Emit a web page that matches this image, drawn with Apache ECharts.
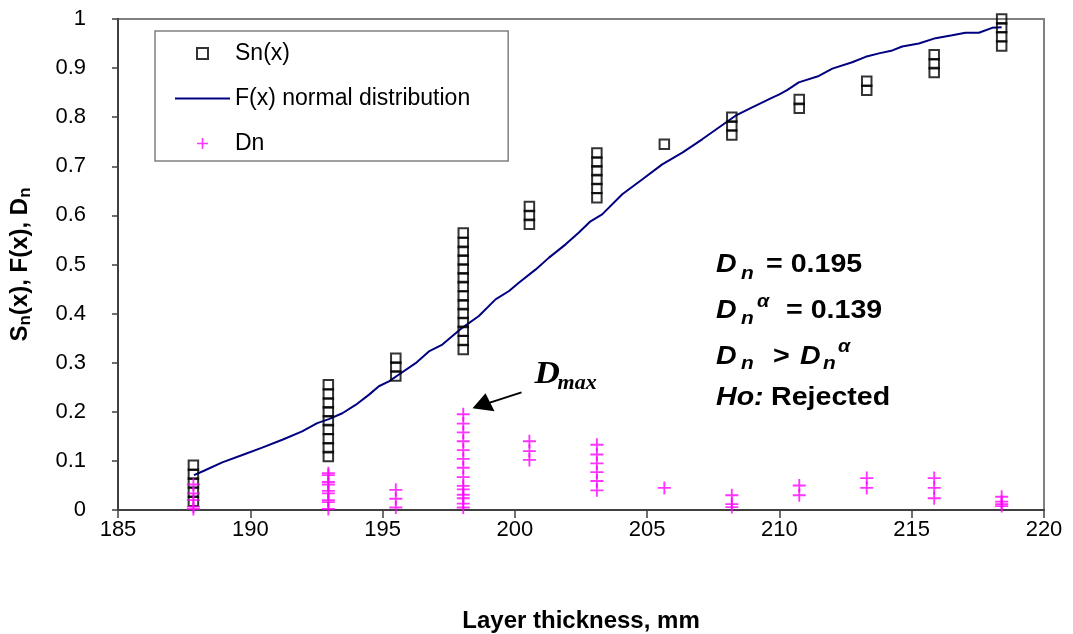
<!DOCTYPE html>
<html><head><meta charset="utf-8">
<script src="https://cdn.jsdelivr.net/npm/echarts@6/dist/echarts.min.js"></script>
<style>html,body{margin:0;padding:0;background:#fff}#c{width:1073px;height:634px}</style>
</head><body><div id="c"></div>
<script>
const FONT = '"Liberation Sans", Arial, Helvetica, sans-serif';
const SERIF = '"Liberation Serif", "Times New Roman", serif';

// ---- data ----
const xAxisMin = 185, xAxisMax = 220, xAxisStep = 5;
const yAxisMin = 0, yAxisMax = 1, yAxisStep = 0.1;

const snThickness = [
  187.85,187.85,187.85,187.85,187.85,
  192.95,192.95,192.95,192.95,192.95,192.95,192.95,192.95,192.95,
  195.5,195.5,195.5,
  198.05,198.05,198.05,198.05,198.05,198.05,198.05,198.05,198.05,198.05,198.05,198.05,198.05,198.05,
  200.55,200.55,200.55,
  203.1,203.1,203.1,203.1,203.1,203.1,
  205.65,
  208.2,208.2,208.2,
  210.75,210.75,
  213.3,213.3,
  215.85,215.85,215.85,
  218.4,218.4,218.4,218.4
];
const snValues = [
  0.018,0.036,0.055,0.073,0.091,
  0.109,0.127,0.145,0.164,0.182,0.200,0.218,0.236,0.255,
  0.273,0.291,0.309,
  0.327,0.345,0.364,0.382,0.400,0.418,0.436,0.455,0.473,0.491,0.509,0.527,0.545,0.564,
  0.582,0.600,0.618,
  0.636,0.655,0.673,0.691,0.709,0.727,
  0.745,
  0.764,0.782,0.800,
  0.818,0.836,
  0.855,0.873,
  0.891,0.909,0.927,
  0.945,0.964,0.982,1.000
];

const fThickness = [
  187.87,188.25,188.94,189.70,190.45,191.21,191.96,192.53,192.97,193.48,193.98,194.49,194.86,195.24,
  195.62,196.25,196.75,197.26,198.01,198.64,199.27,199.78,200.15,200.79,201.29,201.92,202.42,202.86,
  203.30,204.06,204.81,205.57,206.33,207.08,207.71,208.34,208.97,209.73,209.98,210.29,210.73,211.49,
  212.00,212.75,213.26,213.76,214.27,214.64,215.27,215.90,216.53,217.03,217.54,218.04,218.40
];
const fValues = [
  0.071,0.080,0.097,0.112,0.127,0.143,0.160,0.177,0.185,0.197,0.214,0.235,0.252,0.262,
  0.276,0.299,0.323,0.337,0.371,0.395,0.429,0.446,0.463,0.490,0.514,0.541,0.565,0.588,
  0.602,0.643,0.673,0.704,0.728,0.755,0.779,0.803,0.820,0.840,0.846,0.855,0.871,0.884,
  0.899,0.912,0.923,0.930,0.936,0.944,0.950,0.961,0.967,0.972,0.972,0.982,0.983
];

const dnThickness = snThickness;
const dnValues = [
  0.052,0.034,0.020,0.007,0.002,
  0.075,0.057,0.039,0.020,0.002,0.016,0.034,0.052,0.071,
  0.005,0.023,0.041,
  0.042,0.024,0.005,0.013,0.031,0.049,0.067,0.086,0.104,0.122,0.140,0.158,0.176,0.195,
  0.102,0.120,0.140,
  0.040,0.059,0.077,0.095,0.113,0.133,
  0.045,
  0.030,0.012,0.006,
  0.050,0.030,
  0.065,0.045,
  0.065,0.045,0.024,
  0.027,0.017,0.012,0.008
];
const dMaxThickness = 198.05, dMaxValue = 0.195;

const seriesNames = ['Sn(x)', 'F(x) normal distribution', 'Dn'];

// ---- chart ----
const pairs = (xs, ys) => xs.map((x, i) => [x, ys[i]]);
const crossPath = 'path://M0,6L14,6L14,8L0,8Z M6,0L8,0L8,14L6,14Z';
const squarePath = 'path://M0,0L10,0L10,10L0,10Z';
const barPath = 'path://M0,0L55,0L55,2L0,2Z';
const chart = echarts.init(document.getElementById('c'), null, {renderer: 'canvas'});

chart.setOption({
  animation: false,
  backgroundColor: '#fff',
  textStyle: {fontFamily: FONT},
  grid: {left: 118, right: 29, top: 19, bottom: 124, show: true, containLabel: false,
         outerBoundsMode: 'none',
         borderColor: '#808080', borderWidth: 2, backgroundColor: 'transparent'},
  legend: {
    orient: 'vertical', left: 155, top: 31,
    padding: [11, 38, 6, 20], itemGap: 22,
    itemWidth: 55, itemHeight: 11, symbolKeepAspect: true,
    borderColor: '#808080', borderWidth: 1.5, backgroundColor: '#fff',
    textStyle: {fontFamily: FONT, fontSize: 23, color: '#000'},
    data: [
      {name: seriesNames[0], icon: squarePath},
      {name: seriesNames[1], icon: barPath},
      {name: seriesNames[2], icon: crossPath}
    ]
  },
  xAxis: {
    type: 'value', min: xAxisMin, max: xAxisMax, interval: xAxisStep,
    name: 'Layer thickness, mm', nameLocation: 'middle', nameGap: 99,
    nameTextStyle: {fontFamily: FONT, fontSize: 24, fontWeight: 'bold', color: '#000'},
    axisLine: {show: true, onZero: false, lineStyle: {color: '#404040', width: 2}},
    axisTick: {show: true, length: 8, lineStyle: {color: '#404040', width: 1.5}},
    axisLabel: {fontFamily: FONT, fontSize: 22, color: '#000', margin: 9},
    splitLine: {show: false}
  },
  yAxis: {
    type: 'value', min: yAxisMin, max: yAxisMax, interval: yAxisStep,
    name: '{b|S}{s|n}{b|(x), F(x), D}{s|n}', nameLocation: 'middle', nameGap: 84, nameRotate: 90,
    nameTextStyle: {
      fontFamily: FONT, fontSize: 24, fontWeight: 'bold', color: '#000',
      rich: {
        b: {fontFamily: FONT, fontSize: 24, fontWeight: 'bold', color: '#000', lineHeight: 28, verticalAlign: 'middle'},
        s: {fontFamily: FONT, fontSize: 17, fontWeight: 'bold', color: '#000', lineHeight: 20, verticalAlign: 'bottom'}
      }
    },
    axisLine: {show: true, onZero: false, lineStyle: {color: '#404040', width: 2}},
    axisTick: {show: true, length: 6, lineStyle: {color: '#404040', width: 1.5}},
    axisLabel: {fontFamily: FONT, fontSize: 22, color: '#000', margin: 32},
    splitLine: {show: false}
  },
  series: [
    {
      name: seriesNames[0], type: 'scatter', data: pairs(snThickness, snValues),
      symbol: 'rect', symbolSize: 9.5, z: 3,
      itemStyle: {color: 'rgba(0,0,0,0)', borderColor: '#000', borderWidth: 2}
    },
    {
      name: seriesNames[1], type: 'line', data: pairs(fThickness, fValues),
      symbol: 'none', smooth: false, z: 2,
      lineStyle: {color: '#000080', width: 2}, itemStyle: {color: '#000080'}
    },
    {
      name: seriesNames[2], type: 'scatter', data: pairs(dnThickness, dnValues),
      symbol: crossPath, symbolSize: 13, z: 4,
      itemStyle: {color: '#ff00ff'}
    }
  ]
});

// ---- annotations ----
const tip = chart.convertToPixel({gridIndex: 0}, [dMaxThickness + 0.35, dMaxValue + 0.012]);
function t(x, y, text, size, weight, style, family, sx) {
  return {type: 'text', x: x, y: y, scaleX: sx || 1.1, z: 10,
    style: {text: text, fontSize: size, fontWeight: weight, fontStyle: style,
            fontFamily: family || FONT, fill: '#000', align: 'left', verticalAlign: 'middle'}};
}
const g = [
  // Dmax arrow
  {type: 'line', z: 10, shape: {x1: tip[0] + 15, y1: tip[1] - 5, x2: tip[0] + 49, y2: tip[1] - 16},
   style: {stroke: '#000', lineWidth: 2}},
  {type: 'polygon', z: 10, shape: {points: [[tip[0], tip[1]], [tip[0] + 13, tip[1] - 15], [tip[0] + 22, tip[1] + 3]]},
   style: {fill: '#000'}},
  t(tip[0] + 62, tip[1] - 34, 'D', 32, 'bold', 'italic', SERIF),
  t(tip[0] + 85, tip[1] - 25, 'max', 20, 'bold', 'italic', SERIF),
  // statistics text
  t(716, 265, 'D', 26, 'bold', 'italic'),
  t(741, 274, 'n', 19, 'bold', 'italic'),
  t(766, 265, '= 0.195', 26, 'bold', 'normal'),

  t(716, 311, 'D', 26, 'bold', 'italic'),
  t(741, 319, 'n', 19, 'bold', 'italic'),
  t(757, 302, 'α', 18, 'bold', 'italic'),
  t(786, 311, '= 0.139', 26, 'bold', 'normal'),

  t(716, 357, 'D', 26, 'bold', 'italic'),
  t(741, 364, 'n', 19, 'bold', 'italic'),
  t(773, 357, '>', 26, 'bold', 'normal'),
  t(800, 357, 'D', 26, 'bold', 'italic'),
  t(823, 364, 'n', 19, 'bold', 'italic'),
  t(838, 347, 'α', 18, 'bold', 'italic'),

  t(716, 398, 'Ho:', 26, 'bold', 'italic'),
  t(771, 398, 'Rejected', 26, 'bold', 'normal')
];
chart.setOption({graphic: g});
</script>
</body></html>
